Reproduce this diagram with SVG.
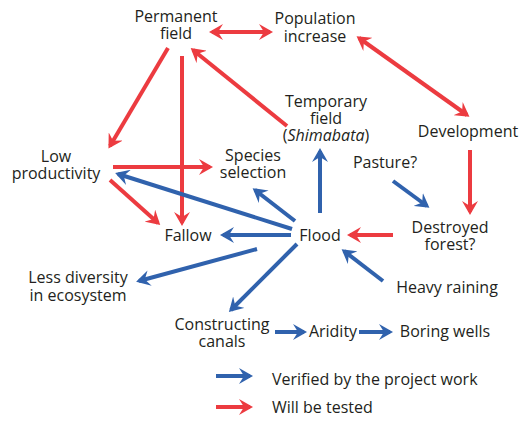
<svg xmlns="http://www.w3.org/2000/svg" width="523" height="421" viewBox="0 0 523 421">
<style>
text{font-family:"Open Sans","Liberation Sans",sans-serif;font-size:16px;fill:#231f20;text-anchor:middle}
.r{stroke:#ec3b40;stroke-width:4;fill:none;marker-end:url(#ar)}
.b{stroke:#3062ad;stroke-width:4;fill:none;marker-end:url(#ab)}
.rd{stroke:#ec3b40;stroke-width:4;fill:none;marker-end:url(#ar);marker-start:url(#ar)}
.lg{text-anchor:start}
</style>
<defs>
<marker id="ar" viewBox="0 0 14 16" markerWidth="14" markerHeight="16" refX="11" refY="8" orient="auto-start-reverse" markerUnits="userSpaceOnUse"><path d="M0,0 L14,8 L0,16 L5,8 Z" fill="#ec3b40"/></marker>
<marker id="ab" viewBox="0 0 14 16" markerWidth="14" markerHeight="16" refX="11" refY="8" orient="auto-start-reverse" markerUnits="userSpaceOnUse"><path d="M0,0 L14,8 L0,16 L5,8 Z" fill="#3062ad"/></marker>
</defs>
<g id="connectors">
<path class="rd" d="M270,32 L212,32"/>
<path class="rd" d="M359,38 L467,115"/>
<path class="r" d="M470,150 L470,212"/>
<path class="r" d="M393,235 L350,235"/>
<path class="r" d="M287,126 L193,50"/>
<path class="r" d="M168,48 L110,146"/>
<path class="r" d="M182,56 L182,223"/>
<path class="r" d="M113,167 L210,167"/>
<path class="r" d="M110,180 L158,223"/>
<path class="b" d="M320,213 L320,151"/>
<path class="b" d="M393,181 L427,206"/>
<path class="b" d="M295,221 L255,190"/>
<path class="b" d="M292,229 L118,174"/>
<path class="b" d="M291,235 L223,235"/>
<path class="b" d="M257,249 L139,281"/>
<path class="b" d="M297,244 L231,310"/>
<path class="b" d="M383,281 L344,251"/>
<path class="b" d="M275,332 L304,332"/>
<path class="b" d="M359,332 L390,332"/>
<path class="b" d="M216,376 L250,376"/>
<path class="r" d="M216,407 L250,407"/>
</g>
<g id="permanent-field"><text x="176" y="22">Permanent</text><text x="176" y="39">field</text></g>
<g id="population-increase"><text x="315" y="24">Population</text><text x="315" y="42">increase</text></g>
<g id="low-productivity"><text x="56" y="162">Low</text><text x="56" y="179">productivity</text></g>
<g id="species-selection"><text x="253" y="161">Species</text><text x="253" y="178">selection</text></g>
<g id="temporary-field"><text x="326" y="107">Temporary</text><text x="326" y="124">field</text><text x="326" y="141">(<tspan font-style="italic">Shimabata</tspan>)</text></g>
<g id="development"><text x="468" y="137">Development</text></g>
<g id="pasture"><text x="385" y="168">Pasture?</text></g>
<g id="fallow"><text x="188" y="241">Fallow</text></g>
<g id="flood"><text x="320" y="241">Flood</text></g>
<g id="destroyed-forest"><text x="450" y="233">Destroyed</text><text x="450" y="250">forest?</text></g>
<g id="heavy-raining"><text x="447" y="293">Heavy raining</text></g>
<g id="less-diversity"><text x="78" y="283">Less diversity</text><text x="78" y="301">in ecosystem</text></g>
<g id="constructing-canals"><text x="222" y="330">Constructing</text><text x="222" y="347">canals</text></g>
<g id="aridity"><text x="333" y="337">Aridity</text></g>
<g id="boring-wells"><text x="445" y="337">Boring wells</text></g>
<g id="legend"><text class="lg" x="272" y="385">Verified by the project work</text><text class="lg" x="272" y="413">Will be tested</text></g>
</svg>
